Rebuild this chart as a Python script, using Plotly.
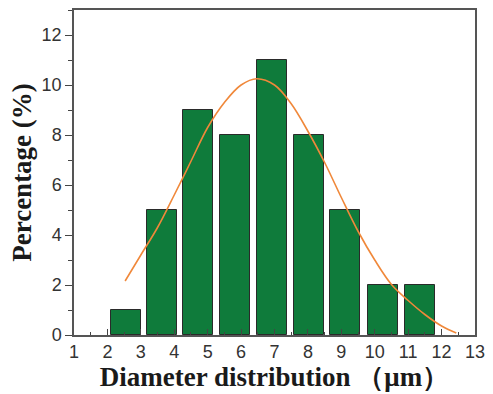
import plotly.graph_objects as go

# Bars (positions)
bar_x = [2.55, 3.62, 4.72, 5.82, 6.93, 8.04, 9.11, 10.24, 11.35]
bar_y = [1, 5, 9, 8, 11, 8, 5, 2, 2]

# Fitted curve points
fit_x = [2.53, 3.0, 3.5, 4.0, 4.5, 5.0, 5.5, 6.0, 6.47, 7.0, 7.5, 8.0, 8.5,
         9.0, 9.5, 10.0, 10.5, 11.0, 11.5, 12.0, 12.44]
fit_y = [2.16, 3.2, 4.3, 5.6, 6.95, 8.3, 9.3, 10.0, 10.25, 10.0, 9.25, 8.15, 6.9,
         5.5, 4.15, 3.0, 2.02, 1.38, 0.82, 0.36, 0.08]

x_ticks = list(range(1, 14))
y_ticks = [0, 2, 4, 6, 8, 10, 12]

fig = go.Figure()
fig.add_trace(go.Bar(
    x=bar_x, y=bar_y, width=0.9,
    marker=dict(color="#0f7b3b", line=dict(color="#2a2a2a", width=1)),
    showlegend=False,
))
fig.add_trace(go.Scatter(
    x=fit_x, y=fit_y, mode="lines",
    line=dict(color="#f0883a", width=1.6, shape="spline"),
    showlegend=False,
))

axis_font = dict(family="Liberation Sans, Arial, sans-serif", size=18, color="#333333")
xtitle_font = dict(family="Liberation Serif, Times New Roman, serif", size=27, color="#1a1a1a")
ytitle_font = dict(family="Liberation Serif, Times New Roman, serif", size=27, color="#1a1a1a")

fig.update_layout(
    width=493, height=394,
    margin=dict(l=74, r=12, t=8, b=59),
    paper_bgcolor="white", plot_bgcolor="white",
    bargap=0,
    xaxis=dict(
        range=[1, 13], tickvals=x_ticks, ticktext=[str(t) for t in x_ticks],
        ticks="inside", ticklen=6, tickwidth=1.2, tickcolor="#444",
        minor=dict(dtick=0.5, ticks="inside", ticklen=3, tickcolor="#444", showgrid=False),
        showline=True, linecolor="#555", linewidth=1.5, mirror=True,
        showgrid=False, zeroline=False,
        tickfont=axis_font,
        title=dict(text="<b>Diameter distribution （μm）</b>", font=xtitle_font, standoff=2),
    ),
    yaxis=dict(
        range=[0, 13], tickvals=y_ticks, ticktext=[str(t) for t in y_ticks],
        ticks="outside", ticklen=7, tickwidth=1.2, tickcolor="#444",
        minor=dict(dtick=1, ticks="outside", ticklen=4, tickcolor="#444", showgrid=False),
        showline=True, linecolor="#555", linewidth=1.5, mirror=True,
        showgrid=False, zeroline=False,
        tickfont=axis_font,
        title=dict(text="<b>Percentage (%)</b>", font=ytitle_font, standoff=2),
    ),
)

fig.write_html("out.html")
